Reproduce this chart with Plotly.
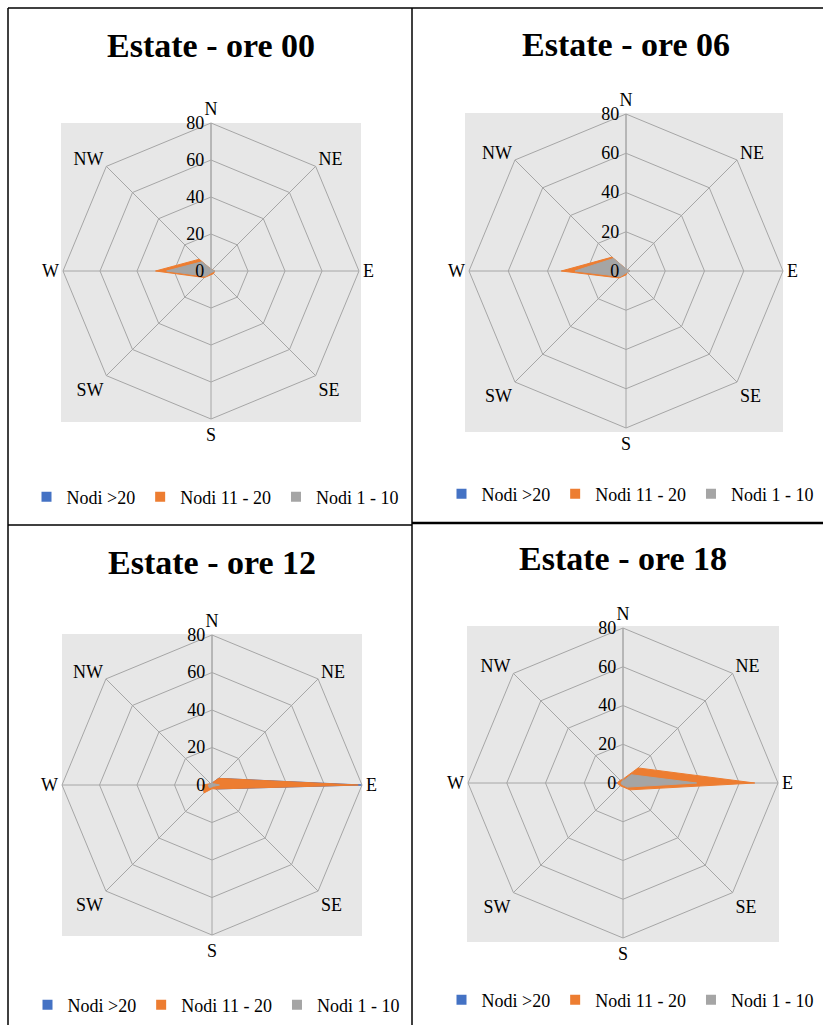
import plotly.graph_objects as go

W, H = 823, 1025
directions = ["N", "NE", "E", "SE", "S", "SW", "W", "NW"]
series_names = ["Nodi >20", "Nodi 11 - 20", "Nodi 1 - 10"]
series_colors = ["#4472C4", "#ED7D31", "#A5A5A5"]
titles = ["Estate - ore 00", "Estate - ore 06", "Estate - ore 12", "Estate - ore 18"]
radial_ticks = [0, 20, 40, 60, 80]

# values per direction (N, NE, E, SE, S, SW, W, NW)
ore00_gt20 = [0, 0, 0, 0, 0, 0, 1, 0]
ore00_11_20 = [1, 1, 2, 2, 2, 5, 30, 9]
ore00_1_10 = [1, 1, 2, 1, 1, 4, 24, 7]

ore06_gt20 = [0, 0, 0, 0, 0, 0, 1, 0]
ore06_11_20 = [1, 1, 2, 1, 2, 5, 33, 10]
ore06_1_10 = [1, 1, 2, 1, 1, 4, 26, 9]

ore12_gt20 = [1, 5, 80, 3, 1, 2, 2, 1]
ore12_11_20 = [1, 5, 78, 3, 2, 6, 5, 1]
ore12_1_10 = [1, 1, 4, 1, 1, 2, 2, 1]

ore18_gt20 = [1, 1, 1, 1, 1, 1, 4, 1]
ore18_11_20 = [2, 11, 68, 5, 2, 2, 3, 2]
ore18_1_10 = [1, 6, 38, 3, 1, 1, 1, 1]

charts = [
    [ore00_gt20, ore00_11_20, ore00_1_10],
    [ore06_gt20, ore06_11_20, ore06_1_10],
    [ore12_gt20, ore12_11_20, ore12_1_10],
    [ore18_gt20, ore18_11_20, ore18_1_10],
]

# layout geometry in pixels: (cx, cy, R), bg rect, title y, legend (x, y)
geo = [
    dict(c=(211, 271, 148), rect=(61, 123, 361, 422), ty=45, lx=215, ly=497),
    dict(c=(626, 271, 157), rect=(465, 113, 783, 432), ty=44, lx=630, ly=494),
    dict(c=(212, 785, 150), rect=(62, 634, 362, 936), ty=562, lx=216, ly=1005),
    dict(c=(623, 783, 155), rect=(467, 626, 779, 942), ty=558, lx=630, ly=1000),
]

def px(x):
    return x / W

def py(y):
    return 1 - y / H

SERIF = "Liberation Serif, Times New Roman, serif"
GRID = "#a6a6a6"

fig = go.Figure()
layout = dict(width=W, height=H, margin=dict(l=0, r=0, t=0, b=0),
              paper_bgcolor="white", showlegend=True)
shapes = []
annotations = []

for i, (series, g) in enumerate(zip(charts, geo)):
    pname = "polar" if i == 0 else f"polar{i+1}"
    lname = "legend" if i == 0 else f"legend{i+1}"
    cx, cy, R = g["c"]
    for vals, name, col in zip(series, series_names, series_colors):
        fig.add_trace(go.Scatterpolar(
            r=vals + [vals[0]], theta=directions + [directions[0]],
            mode="lines", fill="toself", fillcolor=col,
            line=dict(color=col, width=1), name=name,
            subplot=pname, showlegend=False, hoverinfo="skip"))
    for name, col in zip(series_names, series_colors):
        fig.add_trace(go.Scatterpolar(
            r=[None], theta=[None], mode="markers",
            marker=dict(symbol="square", size=10, color=col),
            name=name, subplot=pname, legend=lname, showlegend=True))
    layout[pname] = dict(
        domain=dict(x=[px(cx - R), px(cx + R)], y=[py(cy + R), py(cy - R)]),
        gridshape="linear",
        bgcolor="rgba(0,0,0,0)",
        angularaxis=dict(direction="clockwise", rotation=90,
                         categoryarray=directions, categoryorder="array",
                         type="category",
                         linecolor=GRID, gridcolor=GRID, showline=True,
                         ticks="", tickfont=dict(family=SERIF, size=18, color="black")),
        radialaxis=dict(range=[0, 80], tickvals=radial_ticks, angle=90, tickangle=90,
                        side="counterclockwise", showline=True, linecolor=GRID,
                        gridcolor=GRID, ticks="",
                        tickfont=dict(family=SERIF, size=18, color="black")),
    )
    layout[lname] = dict(orientation="h", x=px(g["lx"]), y=py(g["ly"]),
                         xanchor="center", yanchor="middle",
                         font=dict(family=SERIF, size=18, color="black"),
                         bgcolor="rgba(0,0,0,0)", itemwidth=30, tracegroupgap=0)
    x0, y0, x1, y1 = g["rect"]
    shapes.append(dict(type="rect", xref="paper", yref="paper",
                       x0=px(x0), x1=px(x1), y0=py(y1), y1=py(y0),
                       fillcolor="#e7e7e7", line=dict(width=0), layer="below"))
    annotations.append(dict(text="<b>" + titles[i] + "</b>", x=px(g["c"][0]), y=py(g["ty"]),
                            xref="paper", yref="paper", showarrow=False,
                            xanchor="center", yanchor="middle",
                            font=dict(family=SERIF, size=34, color="black")))

# table borders
borders = [
    (8, 8, 8, 1025, 1.5), (8, 8, 823, 8, 1.5), (412, 8, 412, 1025, 1.5),
    (8, 525, 412, 525, 1.5), (412, 523, 823, 523, 2.5),
]
for x0, y0, x1, y1, w in borders:
    shapes.append(dict(type="line", xref="paper", yref="paper",
                       x0=px(x0), y0=py(y0), x1=px(x1), y1=py(y1),
                       line=dict(color="black", width=w)))

layout["shapes"] = shapes
layout["annotations"] = annotations
fig.update_layout(**layout)
fig.write_html("out.html", config={"displayModeBar": False},
               post_script="document.body.style.margin='0';document.body.style.overflow='hidden';")
